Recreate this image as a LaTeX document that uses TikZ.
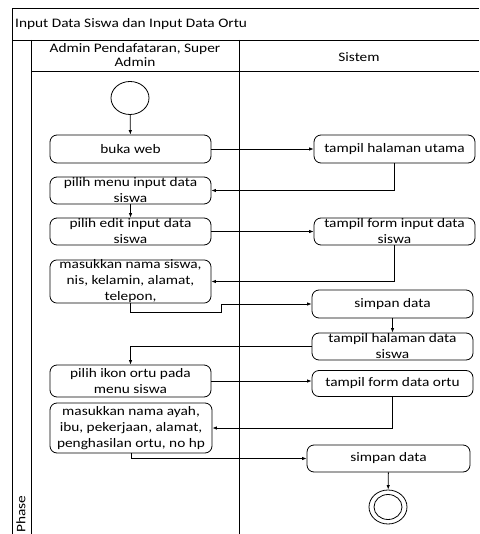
\documentclass[tikz,border=0pt]{standalone}
\usepackage{fontspec}
\setmainfont{Carlito}[FakeStretch=1.18]
\usetikzlibrary{arrows.meta,shapes.geometric}
\begin{document}
\begin{tikzpicture}[x=1pt,y=-1pt,
  act/.style={draw, rounded corners=7pt, minimum width=161pt, minimum height=28pt, inner sep=0pt, align=center, font=\fontsize{13}{16}\selectfont, line width=0.8pt},
  lbl/.style={inner sep=0pt, align=center, font=\fontsize{13}{14}\selectfont},
  arr/.style={-{Latex[length=4.5pt,width=3.5pt]}, line width=0.8pt},
  lane/.style={line width=0.9pt}]
\clip (0,0) rectangle (479,534);
% frame
\draw[lane] (12,540) -- (12,8) -- (479,8);
\draw[lane] (12,40) -- (479,40);
\draw[lane] (31,40) -- (31,540);
\draw[lane] (31,71) -- (479,71);
\draw[lane] (239,40) -- (239,540);
\node[lbl, anchor=west] (title) at (15,24) {Input Data Siswa dan Input Data Ortu};
\node[lbl] (hadmin) at (135,55) {Admin Pendafataran, Super\\Admin};
\node[lbl] (hsis) at (359,57) {Sistem};
\node[lbl, rotate=90] (phase) at (21,514) {Phase};
% nodes
\node[draw, ellipse, minimum width=38pt, minimum height=33pt, inner sep=0pt, line width=0.8pt] (start) at (130,98) {};
\node[act] (n1) at (130.5,149) {buka web};
\node[act] (n2) at (394.5,149) {tampil halaman utama};
\node[act, minimum height=27pt] (n3) at (130.5,190.5) {pilih menu input data\\siswa};
\node[act, minimum height=27pt] (n4) at (130.5,231.5) {pilih edit input data\\siswa};
\node[act, minimum height=27pt] (n5) at (394.5,231.5) {tampil form input data\\siswa};
\node[act, minimum height=43pt] (n6) at (130.5,281.5) {masukkan nama siswa,\\nis, kelamin, alamat,\\telepon,};
\node[act] (n7) at (392.5,304) {simpan data};
\node[act, minimum height=27pt] (n8) at (392.5,346.5) {tampil halaman data\\siswa};
\node[act, minimum height=32pt] (n9) at (130.5,381) {pilih ikon ortu pada\\menu siswa};
\node[act, minimum height=26pt] (n10) at (392.5,383.5) {tampil form data ortu};
\node[act, minimum height=50pt, minimum width=162pt] (n11) at (131,428) {masukkan nama ayah,\\ibu, pekerjaan, alamat,\\penghasilan ortu, no hp};
\node[act, minimum height=27pt, minimum width=163pt] (n12) at (388.5,458.5) {simpan data};
\node[draw, ellipse, minimum width=38pt, minimum height=34pt, inner sep=0pt, line width=0.8pt] (end) at (388,507) {};
\node[draw, ellipse, minimum width=28pt, minimum height=25pt, inner sep=0pt, line width=0.8pt] (endin) at (388,507) {};
% connectors
\draw[arr] (start) -- (n1);
\draw[arr] (n1) -- (n2);
\draw[arr] (n2.south) |- (n3.east);
\draw[arr] (n3) -- (n4);
\draw[arr] (n4) -- (n5);
\draw[arr] (n5.south) |- (n6.east);
\draw[arr] (n6.south) -- (n6.south |- 0,312) -- (221,312) -- (221,304) -- (n7.west);
\draw[arr] (n7) -- (n8);
\draw[arr] (n8.west) -| (n9.north);
\draw[arr] (n9.east) -- (n9.east -| n10.west);
\draw[arr] (n10.south) |- (n11.east);
\draw[arr] (n11.south) |- (n12.west);
\draw[arr] (n12) -- (end);
\end{tikzpicture}
\end{document}
